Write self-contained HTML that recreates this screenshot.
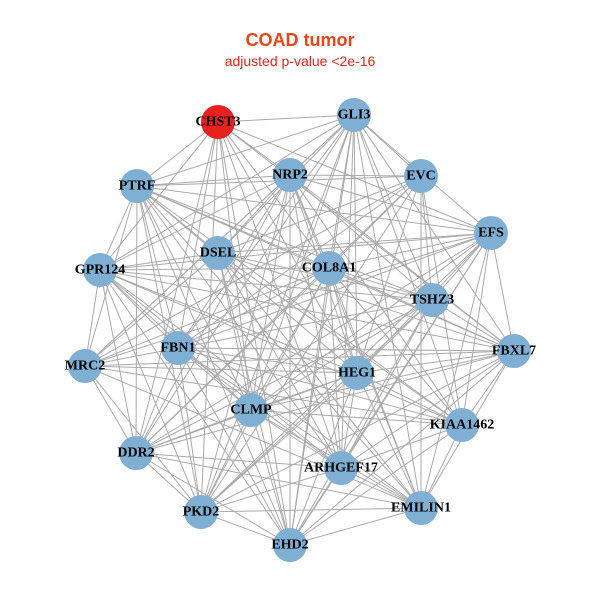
<!DOCTYPE html>
<html><head><meta charset="utf-8"><style>
html,body{margin:0;padding:0;background:#fff;}
svg{display:block;}
.l{font-family:"Liberation Serif",serif;font-weight:bold;font-size:14px;fill:#000;text-anchor:middle;dominant-baseline:central;}
</style></head><body>
<svg id="s" width="600" height="600" viewBox="0 0 600 600">
<rect width="600" height="600" fill="#fff"/>
<text x="300" y="46" text-anchor="middle" font-family="Liberation Sans, sans-serif" font-weight="bold" font-size="18" fill="#e8461a">COAD tumor</text>
<text x="300" y="66" text-anchor="middle" font-family="Liberation Sans, sans-serif" font-size="14" fill="#e8261a">adjusted p-value &lt;2e-16</text>
<g id="edges" stroke="#aaaaaa" stroke-width="1"></g>
<g id="nodes">
<circle cx="218" cy="122" r="17" fill="#e8201e"/>
<circle cx="354" cy="115" r="17" fill="#7fb0d4"/>
<circle cx="290" cy="175" r="17" fill="#7fb0d4"/>
<circle cx="421" cy="176" r="17" fill="#7fb0d4"/>
<circle cx="137" cy="186" r="17" fill="#7fb0d4"/>
<circle cx="491" cy="233" r="17" fill="#7fb0d4"/>
<circle cx="218" cy="253" r="17" fill="#7fb0d4"/>
<circle cx="329" cy="268" r="17" fill="#7fb0d4"/>
<circle cx="100" cy="270" r="17" fill="#7fb0d4"/>
<circle cx="432" cy="300" r="17" fill="#7fb0d4"/>
<circle cx="178" cy="348" r="17" fill="#7fb0d4"/>
<circle cx="514" cy="351" r="17" fill="#7fb0d4"/>
<circle cx="85" cy="366" r="17" fill="#7fb0d4"/>
<circle cx="357" cy="373" r="17" fill="#7fb0d4"/>
<circle cx="251" cy="410" r="17" fill="#7fb0d4"/>
<circle cx="462" cy="425" r="17" fill="#7fb0d4"/>
<circle cx="136" cy="453" r="17" fill="#7fb0d4"/>
<circle cx="341" cy="468" r="17" fill="#7fb0d4"/>
<circle cx="421" cy="508" r="17" fill="#7fb0d4"/>
<circle cx="201" cy="512" r="17" fill="#7fb0d4"/>
<circle cx="290" cy="545" r="17" fill="#7fb0d4"/>
</g>
<g>
<text class="l" x="218" y="122">CHST3</text>
<text class="l" x="354" y="115">GLI3</text>
<text class="l" x="290" y="175">NRP2</text>
<text class="l" x="421" y="176">EVC</text>
<text class="l" x="137" y="186">PTRF</text>
<text class="l" x="491" y="233">EFS</text>
<text class="l" x="218" y="253">DSEL</text>
<text class="l" x="329" y="268">COL8A1</text>
<text class="l" x="100" y="270">GPR124</text>
<text class="l" x="432" y="300">TSHZ3</text>
<text class="l" x="178" y="348">FBN1</text>
<text class="l" x="514" y="351">FBXL7</text>
<text class="l" x="85" y="366">MRC2</text>
<text class="l" x="357" y="373">HEG1</text>
<text class="l" x="251" y="410">CLMP</text>
<text class="l" x="462" y="425">KIAA1462</text>
<text class="l" x="136" y="453">DDR2</text>
<text class="l" x="341" y="468">ARHGEF17</text>
<text class="l" x="421" y="508">EMILIN1</text>
<text class="l" x="201" y="512">PKD2</text>
<text class="l" x="290" y="545">EHD2</text>
</g>
</svg>
<script>
var c=document.querySelectorAll('#nodes circle'),g=document.getElementById('edges'),ns='http://www.w3.org/2000/svg';
for(var i=0;i<c.length;i++)for(var j=i+1;j<c.length;j++){
if((i*7+j*3)%9==0)continue;
var l=document.createElementNS(ns,'line');
l.setAttribute('x1',c[i].getAttribute('cx'));l.setAttribute('y1',c[i].getAttribute('cy'));
l.setAttribute('x2',c[j].getAttribute('cx'));l.setAttribute('y2',c[j].getAttribute('cy'));
g.appendChild(l);}
</script>
</body></html>
